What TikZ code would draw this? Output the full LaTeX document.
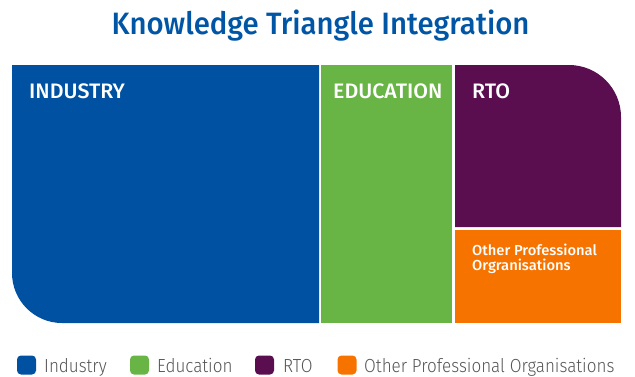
\documentclass[tikz,border=0pt]{standalone}
\usepackage{fontspec}
\setmainfont{Fira Sans}
\newfontfamily\lightfont{Fira Sans Light}[FakeStretch=0.9]
\newfontfamily\medfont{Fira Sans Medium}[FakeStretch=0.95]
\newfontfamily\labfont{Fira Sans Medium}[FakeStretch=1.02]
\definecolor{indblue}{HTML}{0051A1}
\definecolor{edugreen}{HTML}{68B545}
\definecolor{rtopurple}{HTML}{5A0E50}
\definecolor{opoorange}{HTML}{F77300}
\definecolor{titleblue}{HTML}{0055A5}
\definecolor{leggray}{HTML}{555555}
\begin{document}
\begin{tikzpicture}[x=1bp,y=-1bp,
  blocklabel/.style={text=white,anchor=base west,inner sep=0pt,font=\labfont\fontsize{21}{24}\selectfont},
  smalllabel/.style={text=white,anchor=base west,inner sep=0pt,align=left,font=\labfont\fontsize{14.5}{15}\selectfont},
  legsq/.style={minimum width=19bp,minimum height=19bp,inner sep=0pt,rounded corners=4bp},
  legtext/.style={text=leggray,anchor=base west,inner sep=0pt,font=\lightfont\fontsize{19}{22}\selectfont}]
\useasboundingbox (0,0) rectangle (635,376);
% title
\node[text=titleblue,font=\medfont\fontsize{31}{36}\selectfont,anchor=base,inner sep=0pt] (title) at (320.5,34.3) {Knowledge Triangle Integration};
% blocks
\fill[indblue] (12,65) -- (319,65) -- (319,323) -- (62,323) .. controls (34.4,323) and (12,300.6) .. (12,273) -- cycle;
\fill[edugreen] (321,65) rectangle (452,323);
\fill[rtopurple] (455,65) -- (569,65) .. controls (597.7,65) and (621,88.3) .. (621,117) -- (621,227) -- (455,227) -- cycle;
\fill[opoorange] (455,229.5) rectangle (621,323);
% labels
\node[blocklabel] (ind) at (29,98.5) {INDUSTRY};
\node[blocklabel] (edu) at (333,98.5) {EDUCATION};
\node[blocklabel] (rto) at (472,98.5) {RTO};
\node[smalllabel] (opo) at (472,270.7) {Other Professional\\Orgranisations};
% legend
\node[legsq,fill=indblue] (l1) at (26.5,365) {};
\node[legtext] (t1) at (44,372.5) {Industry};
\node[legsq,fill=edugreen] (l2) at (139.5,365) {};
\node[legtext] (t2) at (157,372.5) {Education};
\node[legsq,fill=rtopurple] (l3) at (264.5,365) {};
\node[legtext] (t3) at (283,372.5) {RTO};
\node[legsq,fill=opoorange] (l4) at (347,365) {};
\node[legtext] (t4) at (364,372.5) {Other Professional Organisations};
\end{tikzpicture}
\end{document}
